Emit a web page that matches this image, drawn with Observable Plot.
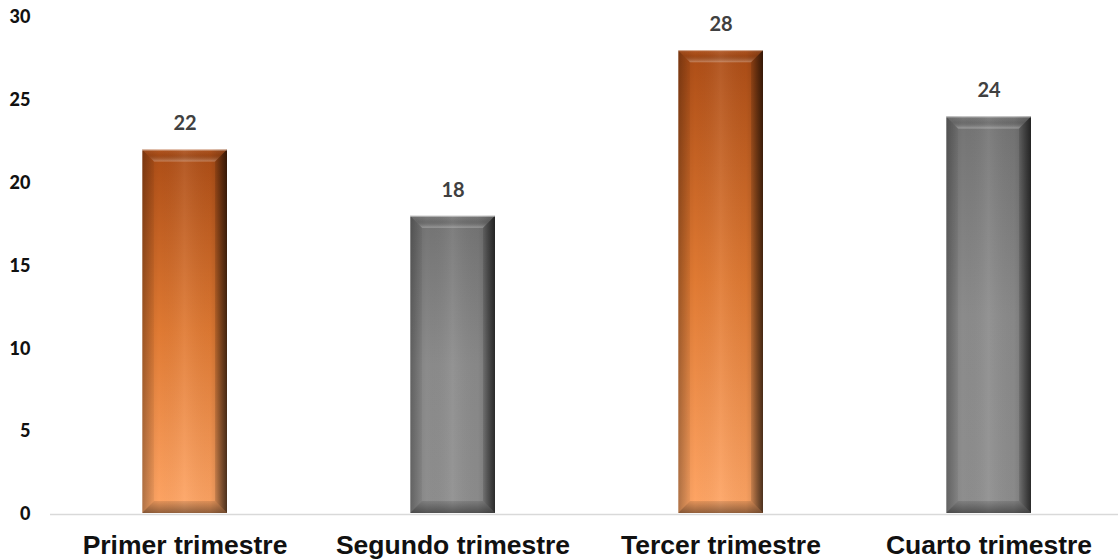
<!DOCTYPE html>
<html><head><meta charset="utf-8">
<script src="https://cdn.jsdelivr.net/npm/d3@7"></script>
<script src="https://cdn.jsdelivr.net/npm/@observablehq/plot@0.6"></script>
<style>
html,body{margin:0;padding:0;background:#fff;}
#chart svg{display:block;}
</style>
</head><body><div id="chart"></div>
<script>
const categories = ["Primer trimestre", "Segundo trimestre", "Tercer trimestre", "Cuarto trimestre"];
const values = [22, 18, 28, 24];
const colorGroups = ["orange", "gray", "orange", "gray"];
const yTicks = [0, 5, 10, 15, 20, 25, 30];

const data = categories.map((c, i) => ({cat: c, value: values[i], group: colorGroups[i]}));
const NS = "http://www.w3.org/2000/svg";

function el(tag, attrs) {
  const e = document.createElementNS(NS, tag);
  for (const k in attrs) e.setAttribute(k, attrs[k]);
  return e;
}

function bevelBars(index, scales, vals, dims, ctx) {
  const g = el("g", {});
  const b = 12;
  const bw = typeof scales.x.bandwidth === "function" ? scales.x.bandwidth() : scales.x.bandwidth;
  for (const i of index) {
    const d = data[i];
    const x0 = scales.x(d.cat), x1 = x0 + bw;
    const yT = scales.y(d.value), yB = scales.y(0) - 1;
    const grad = d.group === "orange" ? "url(#gOrange)" : "url(#gGray)";
    g.appendChild(el("rect", {x: x0, y: yT, width: bw, height: yB - yT, fill: grad}));
    g.appendChild(el("rect", {x: x0, y: yT, width: bw, height: yB - yT, fill: "url(#gSide)"}));
    g.appendChild(el("polygon", {points: `${x0},${yT} ${x1},${yT} ${x1 - b},${yT + b} ${x0 + b},${yT + b}`, fill: "url(#gTop)"}));
    g.appendChild(el("polygon", {points: `${x0},${yT} ${x0 + b},${yT + b} ${x0 + b},${yB - b} ${x0},${yB}`, fill: "url(#gLeft)"}));
    g.appendChild(el("polygon", {points: `${x1},${yT} ${x1 - b},${yT + b} ${x1 - b},${yB - b} ${x1},${yB}`, fill: "url(#gRight)"}));
    g.appendChild(el("polygon", {points: `${x0},${yB} ${x1},${yB} ${x1 - b},${yB - b} ${x0 + b},${yB - b}`, fill: "url(#gBottom)"}));
    g.appendChild(el("line", {x1: x0, x2: x1, y1: yT + 0.5, y2: yT + 0.5, stroke: "rgba(255,255,255,0.5)", "stroke-width": 1}));
    g.appendChild(el("line", {x1: x0 + 0.5, x2: x0 + 0.5, y1: yT, y2: yB, stroke: "rgba(255,255,255,0.3)", "stroke-width": 1}));
  }
  return g;
}

const plot = Plot.plot({
  width: 1118,
  height: 560,
  marginLeft: 50,
  marginRight: 0,
  marginTop: 17,
  marginBottom: 46,
  style: {fontFamily: "Lato, 'Liberation Sans', sans-serif", background: "#fff"},
  x: {domain: categories, range: [50, 1122], paddingInner: 0.683, paddingOuter: 0.3415},
  y: {domain: [0, 30]},
  marks: [
    Plot.ruleY([0], {stroke: "#d9d9d9", strokeWidth: 1.5}),
    Plot.barY(data, {x: "cat", y: "value", fill: "#888", render: bevelBars}),
    Plot.text(data, {x: "cat", y: "value", text: d => String(d.value), dy: -26, fontSize: 20, fontWeight: "bold", fill: "#404040", fontFamily: "Lato, sans-serif"}),
    Plot.axisY({ticks: yTicks, tickSize: 0, tickPadding: 20, fontSize: 18, fontWeight: 900, fill: "#111", label: null, fontFamily: "Lato, sans-serif"}),
    Plot.axisX({tickSize: 0, tickPadding: 21, fontSize: 26.5, fontWeight: "bold", fill: "#111", label: null, fontFamily: "'Liberation Sans', Arial, sans-serif"})
  ]
});

const defs = el("defs", {});
defs.innerHTML = `
<linearGradient id="gOrange" x1="0" y1="0" x2="0" y2="1">
  <stop offset="0" stop-color="#ad4d16"/>
  <stop offset="0.5" stop-color="#e07a33"/>
  <stop offset="1" stop-color="#ffa666"/>
</linearGradient>
<linearGradient id="gGray" x1="0" y1="0" x2="0" y2="1">
  <stop offset="0" stop-color="#747474"/>
  <stop offset="0.5" stop-color="#8b8b8b"/>
  <stop offset="1" stop-color="#8e8e8e"/>
</linearGradient>
<linearGradient id="gSide" x1="0" y1="0" x2="1" y2="0">
  <stop offset="0" stop-color="#000" stop-opacity="0.12"/>
  <stop offset="0.2" stop-color="#000" stop-opacity="0.0"/>
  <stop offset="0.5" stop-color="#fff" stop-opacity="0.07"/>
  <stop offset="0.8" stop-color="#000" stop-opacity="0.03"/>
  <stop offset="1" stop-color="#000" stop-opacity="0.25"/>
</linearGradient>
<linearGradient id="gTop" x1="0" y1="0" x2="0" y2="1">
  <stop offset="0" stop-color="#fff" stop-opacity="0.05"/>
  <stop offset="0.45" stop-color="#000" stop-opacity="0.06"/>
  <stop offset="1" stop-color="#fff" stop-opacity="0.30"/>
</linearGradient>
<linearGradient id="gLeft" x1="0" y1="0" x2="1" y2="0">
  <stop offset="0" stop-color="#000" stop-opacity="0.22"/>
  <stop offset="1" stop-color="#000" stop-opacity="0.05"/>
</linearGradient>
<linearGradient id="gRight" x1="0" y1="0" x2="1" y2="0">
  <stop offset="0" stop-color="#000" stop-opacity="0.12"/>
  <stop offset="1" stop-color="#000" stop-opacity="0.6"/>
</linearGradient>
<linearGradient id="gBottom" x1="0" y1="0" x2="0" y2="1">
  <stop offset="0" stop-color="#000" stop-opacity="0.10"/>
  <stop offset="1" stop-color="#000" stop-opacity="0.42"/>
</linearGradient>`;
plot.insertBefore(defs, plot.firstChild);
document.getElementById("chart").appendChild(plot);
</script>
</body></html>
